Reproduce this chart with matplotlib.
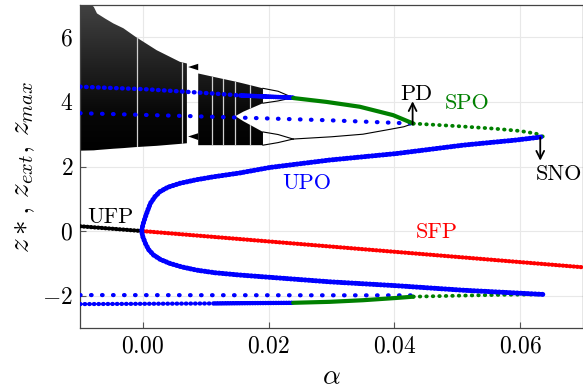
import numpy as np
import matplotlib
matplotlib.use('Agg')
import matplotlib.pyplot as plt
from matplotlib.path import Path
from matplotlib.patches import PathPatch
from matplotlib.colors import LinearSegmentedColormap
from matplotlib.ticker import FuncFormatter, FixedLocator

plt.rcParams['mathtext.fontset'] = 'cm'
plt.rcParams['font.family'] = 'serif'
plt.rcParams['font.serif'] = ['cmr10', 'DejaVu Serif']
plt.rcParams['axes.formatter.use_mathtext'] = True

# ---------------- data ----------------
xticks = [0.00, 0.02, 0.04, 0.06]
yticks = [-2, 0, 2, 4, 6]

# fixed point z*
fp_alpha = [-0.010, 0.000, 0.070]
fp_z = [0.15, 0.00, -1.12]

# unstable periodic orbit (z_ext), lower branch -> Hopf -> upper branch
upo_alpha = [0.0636, 0.0509, 0.0403, 0.0297, 0.0154, 0.0115, 0.0086, 0.0062, 0.0043, 0.0028,
             0.0017, 0.0009, 0.0004, 0.0000, -0.0002, 0.0000, 0.0004, 0.0008, 0.0012, 0.0019,
             0.0027, 0.0040, 0.0059, 0.0085, 0.0112, 0.0154, 0.0202, 0.0297,
             0.0403, 0.0509, 0.0594, 0.0636]
upo_z = [-1.96, -1.83, -1.69, -1.57, -1.36, -1.29, -1.21, -1.11, -1.00, -0.88,
         -0.74, -0.57, -0.38, -0.18, 0.00, 0.20, 0.44, 0.66, 0.86, 1.06,
         1.22, 1.36, 1.48, 1.59, 1.68, 1.80, 1.97, 2.20,
         2.40, 2.66, 2.82, 2.92]

# unstable orbit continued through the chaotic range: z_max (dense) and z_ext (sparse)
upo1_max_alpha = [-0.0100, 0.0006, 0.0112, 0.0155, 0.0239]
upo1_max_z = [4.47, 4.39, 4.26, 4.20, 4.13]
upo1_min_alpha = [-0.0100, 0.0112, 0.0239]
upo1_min_z = [-2.26, -2.24, -2.22]
upo2_up_alpha = [-0.0100, 0.0075, 0.0297, 0.0430]
upo2_up_z = [3.65, 3.56, 3.43, 3.33]
upo2_lo_alpha = [-0.0100, 0.0430]
upo2_lo_z = [-1.98, -1.99]

# stable periodic orbit (before PD: thick, after PD: dotted)
spo_thick_alpha = [0.0239, 0.0292, 0.0345, 0.0398, 0.0430]
spo_thick_up = [4.12, 4.00, 3.85, 3.59, 3.33]
spo_thick_lo_alpha = [0.0239, 0.0297, 0.0350, 0.0403, 0.0430]
spo_thick_lo = [-2.22, -2.19, -2.14, -2.07, -2.03]
spo_dot_up_alpha = [0.0430, 0.0500, 0.0560, 0.0600, 0.0625, 0.0636]
spo_dot_up = [3.33, 3.25, 3.17, 3.10, 3.02, 2.93]
spo_dot_lo_alpha = [0.0430, 0.0500, 0.0580, 0.0636]
spo_dot_lo = [-2.03, -2.00, -1.97, -1.96]

# simulated maxima: second maximum of the period-2 orbit
p2_alpha = [0.0239, 0.0300, 0.0350, 0.0390, 0.0415, 0.0430]
p2_z = [2.85, 2.92, 3.00, 3.14, 3.23, 3.33]

# chaotic bands (envelopes of simulated maxima)
chA_alpha = [-0.0100, -0.0078, -0.0073, -0.0060, -0.0047, -0.0031, -0.0012, 0.0022, 0.0059, 0.0070]
chA_top = [7.30, 6.94, 6.74, 6.58, 6.43, 6.28, 6.02, 5.60, 5.24, 5.19]
chA_bot = [2.49, 2.50, 2.51, 2.53, 2.55, 2.57, 2.60, 2.64, 2.70, 2.72]
chB_alpha = [0.0088, 0.0123, 0.0147]
chB_top = [4.88, 4.73, 4.63]
chB_bot = [2.66, 2.66, 2.66]
chU_alpha = [0.0147, 0.0160, 0.0191]
chU_top = [4.63, 4.57, 4.42]
chU_bot = [3.56, 3.70, 3.96]
chL_alpha = [0.0147, 0.0160, 0.0191]
chL_top = [3.56, 3.40, 3.07]
chL_bot = [2.66, 2.66, 2.66]
windows = [-0.0010, 0.0062, 0.0110, 0.0128, 0.01465, 0.0170]
stub_alpha = [0.0072, 0.0088, 0.0088]
stub_up = [5.08, 5.18, 4.98]
stub_lo = [2.93, 3.03, 2.82]
fish_alpha = [0.0191, 0.0215, 0.0239]
fishU_top = [4.42, 4.33, 4.13]
fishU_bot = [3.96, 4.03, 4.13]
fishL_top = [3.07, 2.99, 2.85]
fishL_bot = [2.66, 2.74, 2.85]

# annotations
pd_alpha, pd_z = 0.0429, 3.30
sno_alpha, sno_z = 0.0632, 2.90

# ---------------- figure ----------------
fig = plt.figure(figsize=(5.83, 3.90), dpi=100)
ax = fig.add_axes([80/583, 62/390, 503/583, 323/390])
ax.set_axisbelow(True)
ax.grid(True, color='#e8e8e8', lw=0.8, zorder=0)

BLUE, GREEN, RED = '#0000ff', '#008000', '#ff0000'


def dotted(x, y, color, d_px, s_px, zorder=3):
    lw = d_px * 0.72
    on = 0.15
    ax.plot(x, y, color=color, lw=lw, linestyle=(0, (on, s_px / d_px - on)),
            dash_capstyle='round', solid_capstyle='round', zorder=zorder)


# chaotic region as gradient clipped to the band envelopes
polys = []
for a, t, b in [(chA_alpha, chA_top, chA_bot), (chB_alpha, chB_top, chB_bot),
                (chU_alpha, chU_top, chU_bot), (chL_alpha, chL_top, chL_bot)]:
    pc = ax.fill_between(a, b, t, facecolor='none', edgecolor='none', lw=0)
    polys.append(pc.get_paths()[0])
clip = PathPatch(Path.make_compound_path(*polys), transform=ax.transData,
                 facecolor='none', edgecolor='none')
ax.add_patch(clip)
cmap = LinearSegmentedColormap.from_list('chaos', ['#000000', '#070707', '#1c1c1c', '#323232', '#484848'])
grad = np.linspace(0, 1, 256).reshape(-1, 1)
im = ax.imshow(grad, extent=[-0.0105, 0.0245, 2.4, 7.35], origin='lower', aspect='auto',
               cmap=cmap, zorder=1, interpolation='bilinear')
im.set_clip_path(clip)
vl = ax.vlines(windows, 2.4, 7.35, color='#d0d0d0', lw=0.9, zorder=1.2)
vl.set_clip_path(clip)
ax.fill(stub_alpha, stub_up, color='black', lw=0, zorder=1.3)
ax.fill(stub_alpha, stub_lo, color='black', lw=0, zorder=1.3)
for fz in (fishU_top, fishU_bot, fishL_top, fishL_bot):
    ax.plot(fish_alpha, fz, color='black', lw=0.8, zorder=1.5)
ax.plot(p2_alpha, p2_z, color='black', lw=0.8, zorder=1.5)

# fixed point
dotted(fp_alpha[:2], fp_z[:2], 'black', 4.2, 3.6, zorder=3)
dotted(fp_alpha[1:], fp_z[1:], RED, 4.2, 3.6, zorder=3)

# sparse unstable orbit markers
dotted(upo2_up_alpha, upo2_up_z, BLUE, 4.2, 11.0, zorder=3)
dotted(upo2_lo_alpha, upo2_lo_z, BLUE, 4.2, 11.0, zorder=3)

# dense unstable orbit markers
dotted(upo1_max_alpha[:4], upo1_max_z[:4], BLUE, 4.4, 6.0, zorder=3)
dotted(upo1_max_alpha[3:], upo1_max_z[3:], BLUE, 4.6, 2.2, zorder=3)
dotted(upo1_min_alpha[:2], upo1_min_z[:2], BLUE, 4.2, 4.6, zorder=3)
dotted(upo1_min_alpha[1:], upo1_min_z[1:], BLUE, 4.4, 2.6, zorder=3)

# stable periodic orbit
ax.plot(spo_thick_alpha, spo_thick_up, color=GREEN, lw=3.0, solid_capstyle='round', zorder=3.5)
ax.plot(spo_thick_lo_alpha, spo_thick_lo, color=GREEN, lw=3.0, solid_capstyle='round', zorder=3.5)
dotted(spo_dot_up_alpha, spo_dot_up, GREEN, 3.8, 6.5, zorder=3.5)
dotted(spo_dot_lo_alpha, spo_dot_lo, GREEN, 3.8, 6.5, zorder=3.5)

# UPO branch
dotted(upo_alpha, upo_z, BLUE, 5.0, 3.6, zorder=4)

# arrows
ax.annotate('', xy=(pd_alpha, 4.02), xytext=(pd_alpha, pd_z),
            arrowprops=dict(arrowstyle='->', lw=1.3, color='black', mutation_scale=14,
                            shrinkA=0, shrinkB=0), zorder=5)
ax.annotate('', xy=(sno_alpha, 2.18), xytext=(sno_alpha, sno_z),
            arrowprops=dict(arrowstyle='->', lw=1.3, color='black', mutation_scale=14,
                            shrinkA=0, shrinkB=0), zorder=5)

# labels
tk = dict(fontsize=16, ha='center', va='center', zorder=6, family='cmr10')
ax.text(-0.0052, 0.44, 'UFP', color='black', **tk)
ax.text(0.0467, -0.02, 'SFP', color=RED, **tk)
ax.text(0.0260, 1.48, 'UPO', color=BLUE, **tk)
ax.text(0.0515, 3.96, 'SPO', color=GREEN, **tk)
ax.text(0.0435, 4.24, 'PD', color='black', **tk)
ax.text(0.0662, 1.77, 'SNO', color='black', **tk)

ax.set_xlim(-0.01, 0.07)
ax.set_ylim(-3, 7)
ax.xaxis.set_major_locator(FixedLocator(xticks))
ax.yaxis.set_major_locator(FixedLocator(yticks))
ax.xaxis.set_major_formatter(FuncFormatter(lambda v, p: r'$%.2f$' % v))
ax.yaxis.set_major_formatter(FuncFormatter(lambda v, p: r'$%d$' % round(v)))
ax.tick_params(direction='in', length=4, width=0.8, color='#555555', labelsize=17, pad=5)
for s in ax.spines.values():
    s.set_color('#444444')
    s.set_linewidth(0.9)

ax.set_xlabel(r'$\alpha$', fontsize=20, labelpad=5)
ax.set_ylabel(r'$z*,\, z_{ext},\, z_{max}$', fontsize=21, labelpad=4)

fig.savefig('out.png', dpi=100)
